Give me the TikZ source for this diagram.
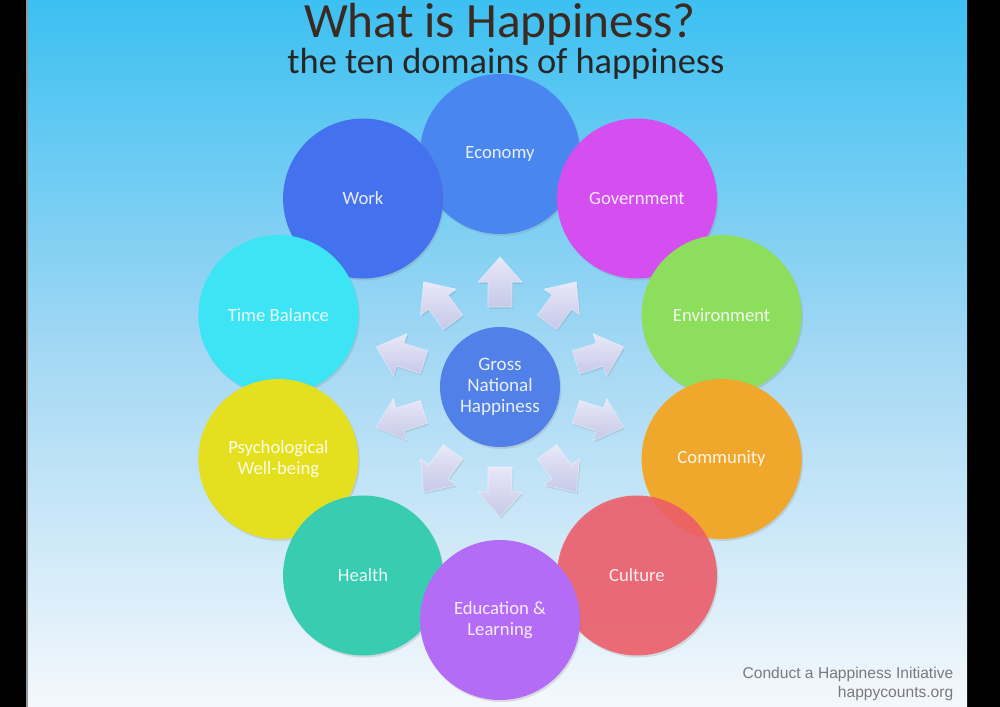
\documentclass[tikz,border=0pt]{standalone}
\usepackage{fontspec}
\setmainfont{Carlito}
\newfontfamily\arialf{Liberation Sans}
\usetikzlibrary{shadows}
\definecolor{bgtop}{HTML}{3CC0F2}
\definecolor{bgmid}{HTML}{A4D8F4}
\definecolor{bgbot}{HTML}{F4F8FC}
\definecolor{titlec}{HTML}{3A2A22}
\definecolor{cEcon}{HTML}{4A86F0}
\definecolor{cWork}{HTML}{4472EE}
\definecolor{cGov}{HTML}{D44EF0}
\definecolor{cEnv}{HTML}{8EDE5E}
\definecolor{cCom}{HTML}{F0A82C}
\definecolor{cCul}{HTML}{EE5C68}
\definecolor{cEdu}{HTML}{B46CF6}
\definecolor{cHea}{HTML}{38CCB0}
\definecolor{cPsy}{HTML}{E4E020}
\definecolor{cTim}{HTML}{3CE4F4}
\definecolor{cGNH}{HTML}{5080E8}
\definecolor{arrTop}{HTML}{E8E8F8}
\definecolor{arrBot}{HTML}{C6C8E8}
\definecolor{footc}{HTML}{7A7A7A}
\tikzset{
  dom/.style={circle, minimum size=120pt, inner sep=0pt, fill=#1,
    text=white, text opacity=0.88, align=center,
    font=\fontsize{14}{16}\selectfont,
    drop shadow={opacity=0.22, shadow xshift=1pt, shadow yshift=-1.5pt}},
  blockarrow/.style={top color=arrTop, bottom color=arrBot, draw=white, draw opacity=0.5, line width=0.4pt,
    drop shadow={opacity=0.18, shadow xshift=1pt, shadow yshift=-1.5pt}}
}
\begin{document}
\begin{tikzpicture}[x=0.75pt,y=0.75pt]
\useasboundingbox (0,0) rectangle (1000,-707);
\fill[black] (0,0) rectangle (1000,-707);
\shade[top color=bgtop, bottom color=bgbot, middle color=bgmid] (28,0) rectangle (967,-707);
\fill[white, opacity=0.6] (25.5,0) rectangle (28,-707);

% title
\node[anchor=base, inner sep=0pt, text=titlec, font=\fontsize{37}{39}\selectfont] (title) at (500,-37) {What is Happiness?};
\node[anchor=base, inner sep=0pt, text=black!85, font=\fontsize{27.3}{30}\selectfont] (subtitle) at (506,-73) {the ten domains of happiness};

% arrows
\foreach \a in {90,54,18,-18,-54,-90,-126,-162,162,126}{
  \begin{scope}[shift={(500,-387)}, rotate=\a-90]
    \path[blockarrow] (-12,80) -- (12,80) -- (12,105) -- (22,105) -- (0,130) -- (-22,105) -- (-12,105) -- cycle;
  \end{scope}
}

% centre
\node[dom=cGNH, minimum size=90pt, font=\fontsize{14.3}{15.8}\selectfont] (gnh) at (500,-387) {Gross\\National\\Happiness};

% domains
\node[dom=cEcon] (econ) at ([shift={(90:233)}]gnh.center) {Economy};
\node[dom=cGov]  (gov)  at ([shift={(54:233)}]gnh.center) {Government};
\node[dom=cWork] (work) at ([shift={(126:233)}]gnh.center) {Work};
\node[dom=cEnv]  (env)  at ([shift={(18:233)}]gnh.center) {Environment};
\node[dom=cTim]  (time) at ([shift={(162:233)}]gnh.center) {Time Balance};
\node[dom=cCom]  (com)  at ([shift={(-18:233)}]gnh.center) {Community};
\node[dom=cPsy]  (psy)  at ([shift={(-162:233)}]gnh.center) {Psychological\\Well-being};
\node[dom=cCul, fill opacity=0.88] (cul) at ([shift={(-54:233)}]gnh.center) {Culture};
\node[dom=cHea]  (hea)  at ([shift={(-126:233)}]gnh.center) {Health};
\node[dom=cEdu]  (edu)  at ([shift={(-90:233)}]gnh.center) {Education \&\\Learning};

% footer
\node[anchor=base east, text=footc, font=\arialf\fontsize{11.7}{14}\selectfont] (foot1) at (958,-678) {Conduct a Happiness Initiative};
\node[anchor=base east, text=footc, font=\arialf\fontsize{11.7}{14}\selectfont] (foot2) at (958,-697) {happycounts.org};
\end{tikzpicture}
\end{document}
